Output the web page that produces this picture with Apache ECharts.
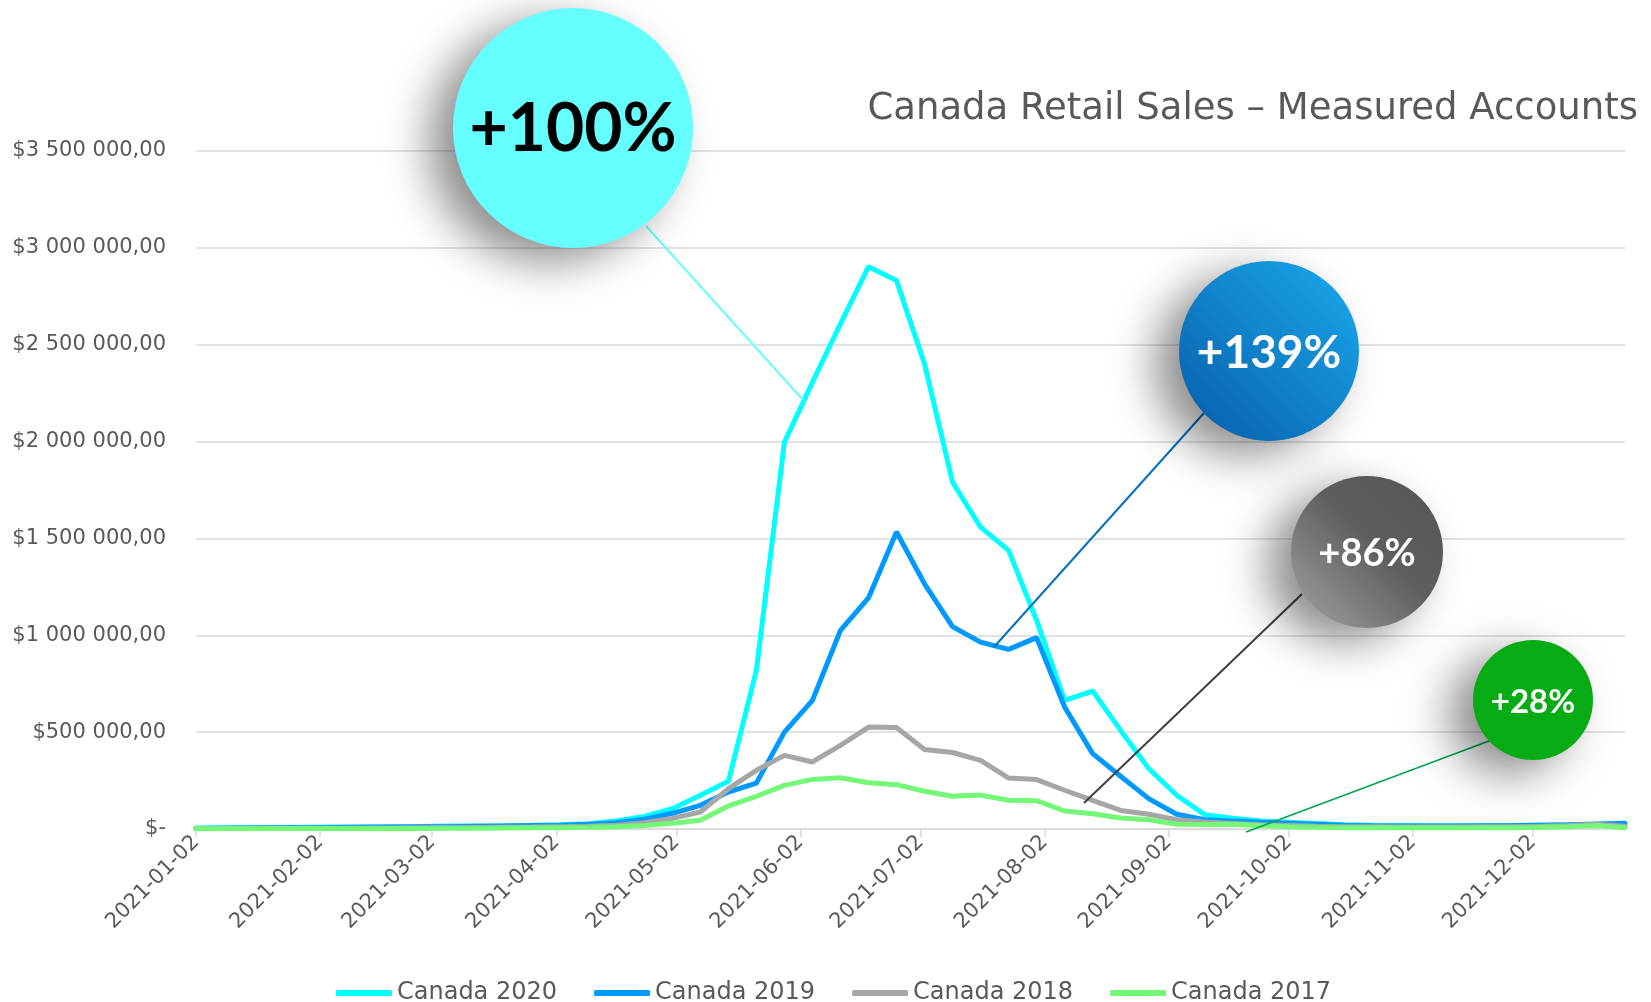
<!DOCTYPE html>
<html>
<head>
<meta charset="utf-8">
<title>Canada Retail Sales</title>
<script src="https://cdn.jsdelivr.net/npm/echarts@6/dist/echarts.min.js"></script>
<style>
  html, body { margin: 0; padding: 0; background: #fff; }
  #chart { width: 1651px; height: 1002px; }
</style>
</head>
<body>
<div id="chart"></div>
<script>
// weekly dates (x)
var weeks = [
  '2021-01-02', '2021-01-09', '2021-01-16', '2021-01-23', '2021-01-30',
  '2021-02-06', '2021-02-13', '2021-02-20', '2021-02-27',
  '2021-03-06', '2021-03-13', '2021-03-20', '2021-03-27',
  '2021-04-03', '2021-04-10', '2021-04-17', '2021-04-24',
  '2021-05-01', '2021-05-08', '2021-05-15', '2021-05-22', '2021-05-29',
  '2021-06-05', '2021-06-12', '2021-06-19', '2021-06-26',
  '2021-07-03', '2021-07-10', '2021-07-17', '2021-07-24', '2021-07-31',
  '2021-08-07', '2021-08-14', '2021-08-21', '2021-08-28',
  '2021-09-04', '2021-09-11', '2021-09-18', '2021-09-25',
  '2021-10-02', '2021-10-09', '2021-10-16', '2021-10-23', '2021-10-30',
  '2021-11-06', '2021-11-13', '2021-11-20', '2021-11-27',
  '2021-12-04', '2021-12-11', '2021-12-18', '2021-12-25'
];

// tick labels on the x axis
var tickDates = [
  '2021-01-02', '2021-02-02', '2021-03-02', '2021-04-02', '2021-05-02', '2021-06-02',
  '2021-07-02', '2021-08-02', '2021-09-02', '2021-10-02', '2021-11-02', '2021-12-02'
];

var seriesNames = ['Canada 2020', 'Canada 2019', 'Canada 2018', 'Canada 2017'];

var canada2020 = [
  5000, 6000, 7000, 8000, 9000, 10000, 11000, 12000, 13000, 15000, 16000, 17000, 19000, 22000, 27000,
  41000, 65000, 105000, 174000, 246000, 819000, 1997000, 2306000, 2608000, 2903000, 2831000,
  2401000, 1790000, 1558000, 1438000, 1077000, 664000, 712000, 509000, 312000, 174000, 74000,
  55000, 41000, 35000, 29000, 22000, 19000, 18000, 17000, 17000, 17000, 18000, 20000, 22000, 22000, 20000
];
var canada2019 = [
  3000, 4000, 5000, 6000, 7000, 8000, 9000, 10000, 11000, 12000, 14000, 16000, 18000, 20000, 24000,
  32000, 50000, 81000, 122000, 191000, 237000, 500000, 664000, 1025000, 1193000, 1533000,
  1266000, 1045000, 965000, 927000, 988000, 630000, 389000, 272000, 157000, 76000, 48000,
  41000, 35000, 30000, 25000, 20000, 17000, 16000, 16000, 16000, 17000, 18000, 20000, 22000, 26000, 30000
];
var canada2018 = [
  2000, 2000, 3000, 3000, 4000, 4000, 5000, 5000, 6000, 7000, 8000, 9000, 10000, 12000, 14000,
  20000, 32000, 55000, 88000, 208000, 303000, 380000, 346000, 432000, 526000, 524000,
  410000, 395000, 354000, 263000, 255000, 200000, 148000, 96000, 76000, 48000, 36000,
  29000, 22000, 18000, 14000, 12000, 11000, 10000, 10000, 10000, 11000, 12000, 14000, 18000, 24000, 14000
];
var canada2017 = [
  1000, 1000, 1000, 2000, 2000, 2000, 3000, 3000, 3000, 4000, 4000, 5000, 6000, 7000, 9000,
  12000, 18000, 30000, 45000, 119000, 169000, 225000, 256000, 265000, 239000, 229000,
  195000, 169000, 175000, 148000, 146000, 93000, 79000, 57000, 48000, 25000, 23000,
  25000, 18000, 12000, 9000, 7000, 6000, 6000, 6000, 6000, 6000, 7000, 9000, 12000, 18000, 6000
];

var badgeTexts = ['+100%', '+139%', '+86%', '+28%'];

var colors = ['#00ffff', '#0099ff', '#a6a6a6', '#75f778'];

var DAY = 86400000;
var startTime = Date.UTC(2021, 0, 2);

// date string -> days since the first week
function toDay(s) {
  var p = s.split('-');
  return Math.round((Date.UTC(+p[0], +p[1] - 1, +p[2]) - startTime) / DAY);
}

function pad(n) { return n < 10 ? '0' + n : '' + n; }

function fmtDate(v) {
  var d = new Date(startTime + Math.round(v) * DAY);
  return d.getUTCFullYear() + '-' + pad(d.getUTCMonth() + 1) + '-' + pad(d.getUTCDate());
}

function fmtMoney(v) {
  if (v === 0) return '$-';
  return '$' + String(v).replace(/\B(?=(\d{3})+(?!\d))/g, ' ') + ',00';
}

var tickValues = tickDates.map(toDay);

function pairs(vals) {
  return weeks.map(function (w, i) { return [toDay(w), vals[i]]; });
}

var allValues = [canada2020, canada2019, canada2018, canada2017];

var series = seriesNames.map(function (name, i) {
  return {
    name: name,
    type: 'line',
    data: pairs(allValues[i]),
    symbol: 'none',
    lineStyle: { width: 5, color: colors[i], cap: 'round' },
    itemStyle: { color: colors[i] },
    z: 2 + i
  };
});

// bubble annotations (layout only)
var bubbles = [
  { cx: 573, cy: 128, r: 120, fill: '#66ffff', text: badgeTexts[0], textColor: '#000', size: 66,
    line: [646, 226, 803, 400], lineColor: '#66ffff', lineWidth: 2 },
  { cx: 1269, cy: 351, r: 90,
    fill: new echarts.graphic.LinearGradient(1, 0, 0, 1, [
      { offset: 0, color: '#1aaaee' }, { offset: 1, color: '#075ca8' }
    ]),
    text: badgeTexts[1], textColor: '#fff', size: 46,
    line: [1204, 413, 994, 647], lineColor: '#0070c0', lineWidth: 2 },
  { cx: 1367, cy: 552, r: 76,
    fill: new echarts.graphic.LinearGradient(1, 0, 0, 1, [
      { offset: 0, color: '#555555' }, { offset: 0.45, color: '#5e5e5e' }, { offset: 1, color: '#a5a5a5' }
    ]),
    text: badgeTexts[2], textColor: '#fff', size: 38,
    line: [1302, 594, 1084, 803], lineColor: '#404040', lineWidth: 2 },
  { cx: 1533, cy: 700, r: 60, fill: '#07ac14', text: badgeTexts[3], textColor: '#fff', size: 33,
    line: [1505, 735, 1246, 832], lineColor: '#00a550', lineWidth: 1.5 }
];

var graphics = [];
bubbles.forEach(function (b) {
  graphics.push({
    type: 'line', z: 90,
    shape: { x1: b.line[0], y1: b.line[1], x2: b.line[2], y2: b.line[3] },
    style: { stroke: b.lineColor, lineWidth: b.lineWidth }
  });
  graphics.push({
    type: 'circle', z: 95,
    shape: { cx: b.cx, cy: b.cy, r: b.r },
    style: {
      fill: b.fill,
      shadowBlur: 45,
      shadowColor: 'rgba(0,0,0,0.45)',
      shadowOffsetX: -24,
      shadowOffsetY: 14
    }
  });
  graphics.push({
    type: 'text', z: 100,
    x: b.cx, y: b.cy + 2,
    style: {
      text: b.text,
      fill: b.textColor,
      font: 'bold ' + b.size + 'px Lato, "Open Sans", sans-serif',
      align: 'center', verticalAlign: 'middle',
      textAlign: 'center', textVerticalAlign: 'middle'
    }
  });
});

var myChart = echarts.init(document.getElementById('chart'));
var option = {
  animation: false,
  backgroundColor: '#fff',
  color: colors,
  title: {
    text: 'Canada Retail Sales – Measured Accounts',
    right: 8,
    top: 86,
    textStyle: {
      fontFamily: 'DejaVu Sans',
      fontSize: 37,
      fontWeight: 'normal',
      color: '#595959'
    }
  },
  legend: {
    data: seriesNames,
    left: 331,
    top: 976,
    itemWidth: 56,
    itemHeight: 6,
    itemGap: 37,
    icon: 'roundRect',
    textStyle: { fontFamily: 'DejaVu Sans', fontSize: 24, color: '#595959' }
  },
  grid: {
    left: 196,
    right: 26,
    top: 151,
    bottom: 173,
    containLabel: false,
    outerBoundsMode: 'none'
  },
  xAxis: {
    type: 'value',
    min: toDay(weeks[0]),
    max: toDay(weeks[weeks.length - 1]),
    axisLine: { show: true, lineStyle: { color: '#d9d9d9', width: 1.5 } },
    axisTick: {
      show: true, length: 8, customValues: tickValues,
      lineStyle: { color: '#d9d9d9', width: 1.5 }
    },
    axisLabel: {
      customValues: tickValues,
      rotate: 45,
      margin: 10,
      formatter: fmtDate,
      color: '#595959',
      fontFamily: 'DejaVu Sans',
      fontSize: 21
    },
    splitLine: { show: false }
  },
  yAxis: {
    type: 'value',
    min: 0,
    max: 3500000,
    interval: 500000,
    axisLine: { show: false },
    axisTick: { show: false },
    axisLabel: {
      formatter: fmtMoney,
      margin: 30,
      color: '#595959',
      fontFamily: 'DejaVu Sans',
      fontSize: 21
    },
    splitLine: { lineStyle: { color: '#d9d9d9', width: 1.5 } }
  },
  graphic: { elements: graphics },
  series: series
};
myChart.setOption(option);
</script>
</body>
</html>
